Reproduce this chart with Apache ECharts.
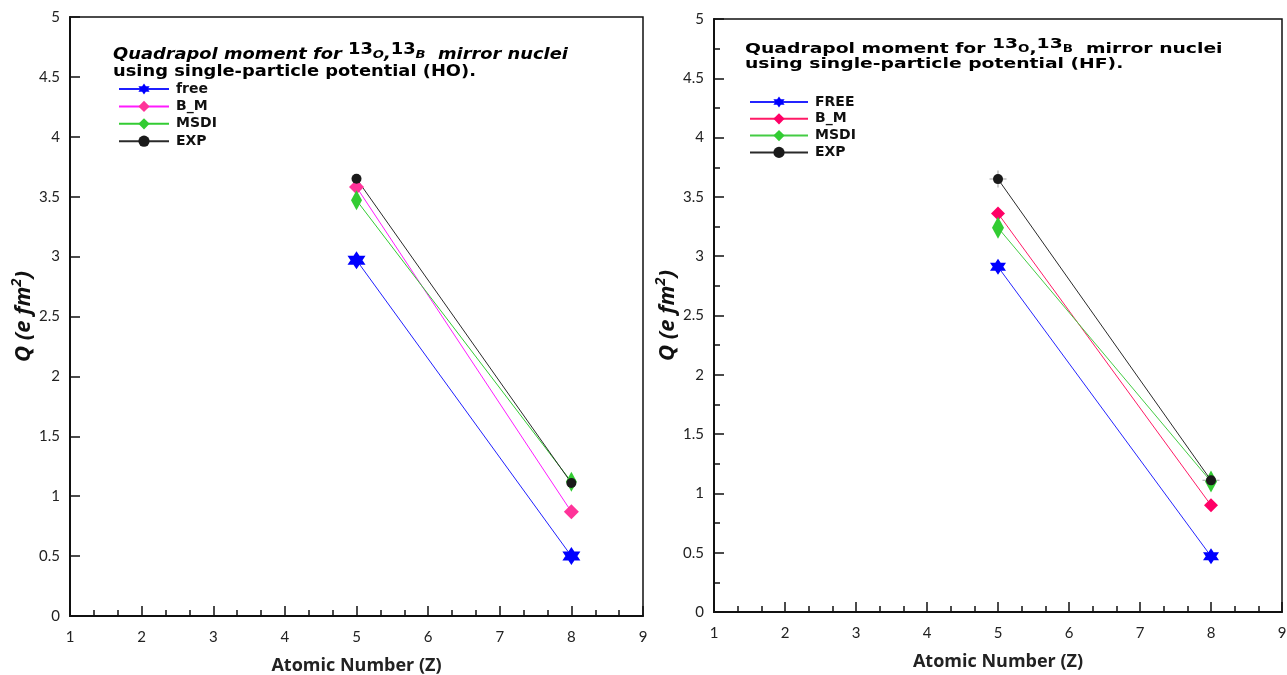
<!DOCTYPE html>
<html>
<head>
<meta charset="utf-8">
<script src="https://cdn.jsdelivr.net/npm/echarts@6/dist/echarts.min.js"></script>
<style>
  html, body { margin: 0; padding: 0; background: #fff; }
  #chart { width: 1287px; height: 675px; }
</style>
</head>
<body>
<div id="chart"></div>
<script>
// Atomic numbers of the mirror pair (13B: Z=5, 13O: Z=8)
const atomicNumbers = [5, 8];
const xTicks = [1, 2, 3, 4, 5, 6, 7, 8, 9];

// Quadrupole moments Q (e fm^2), harmonic oscillator potential
const hoFree = [2.97, 0.50];
const hoBM   = [3.58, 0.87];
const hoMSDI = [3.47, 1.12];
const hoEXP  = [3.65, 1.11];

// Quadrupole moments Q (e fm^2), Hartree-Fock potential
const hfFree = [2.91, 0.47];
const hfBM   = [3.36, 0.90];
const hfMSDI = [3.24, 1.10];
const hfEXP  = [3.65, 1.11];

const pairs = vals => atomicNumbers.map((z, i) => [z, vals[i]]);

// six-pointed star built from two triangles with the same winding
const hexagram = 'path://M0,-10 L8.66,5 L-8.66,5 Z M0,10 L-8.66,-5 L8.66,-5 Z';
const plusMark = 'path://M-10,-0.6 L10,-0.6 L10,0.6 L-10,0.6 Z M-0.6,-10 L0.6,-10 L0.6,10 L-0.6,10 Z';

const tickFont = { fontFamily: 'Lato', fontSize: 15, color: '#222' };

function xAxisFor(gridIndex) {
  return {
    type: 'value', gridIndex, min: xTicks[0], max: xTicks[xTicks.length - 1], interval: 1,
    name: 'Atomic Number (Z)', nameLocation: 'middle', nameGap: 41,
    nameTextStyle: { fontFamily: 'Open Sans', fontWeight: 'bold', fontSize: 18, color: '#222' },
    axisLine: { show: true, onZero: false, lineStyle: { color: '#111', width: 2 } },
    axisTick: { show: true, inside: true, length: 10, lineStyle: { color: '#111', width: 1.5 } },
    minorTick: { show: true, splitNumber: 3, length: 6, lineStyle: { color: '#111', width: 1.5 } },
    axisLabel: Object.assign({ margin: 14 }, tickFont),
    splitLine: { show: false }
  };
}

function yAxisFor(gridIndex, minor) {
  return {
    type: 'value', gridIndex, min: 0, max: 5, interval: 0.5,
    name: '{q|Q (e fm}{s|2}{q|)}', nameLocation: 'middle', nameGap: 34, nameRotate: 90,
    nameTextStyle: {
      rich: {
        q: { fontFamily: 'Open Sans', fontWeight: 'bold', fontStyle: 'italic', fontSize: 22, color: '#111', verticalAlign: 'bottom' },
        s: { fontFamily: 'Open Sans', fontWeight: 'bold', fontStyle: 'italic', fontSize: 15, color: '#111', verticalAlign: 'bottom', padding: [0, 0, 11, 0] }
      }
    },
    axisLine: { show: true, onZero: false, lineStyle: { color: '#111', width: 2 } },
    axisTick: { show: true, inside: true, length: 10, lineStyle: { color: '#111', width: 1.5 } },
    minorTick: { show: minor, splitNumber: 2, length: 6, lineStyle: { color: '#111', width: 1.5 } },
    axisLabel: Object.assign({ margin: 10 }, tickFont),
    splitLine: { show: false }
  };
}

function lineSeries(name, grid, values, symbol, size, lineColor, markColor) {
  return {
    name, type: 'line', xAxisIndex: grid, yAxisIndex: grid,
    data: pairs(values), symbol, symbolSize: size,
    lineStyle: { color: lineColor, width: 1 },
    itemStyle: { color: markColor },
    emphasis: { disabled: true }, animation: false
  };
}

const titleRich = (italic, size) => ({
  m: { fontFamily: 'DejaVu Sans', fontWeight: 'bold', fontStyle: italic ? 'italic' : 'normal', fontSize: size, fill: '#000', verticalAlign: 'bottom' },
  n: { fontFamily: 'DejaVu Sans', fontWeight: 'bold', fontSize: size, fill: '#000', verticalAlign: 'bottom' },
  sup: { fontFamily: 'DejaVu Sans', fontWeight: 'bold', fontSize: size, fill: '#000', verticalAlign: 'bottom', padding: [0, 0, 5, 0] },
  sm: { fontFamily: 'DejaVu Sans', fontWeight: 'bold', fontStyle: italic ? 'italic' : 'normal', fontSize: size - 4, fill: '#000', verticalAlign: 'bottom', padding: [0, 0, 2, 0] }
});

// heading blocks inside each plot, widened horizontally like the printed captions
function heading(x, y, sx, text, lineHeight, rich) {
  return {
    type: 'text', left: x, top: y, scaleX: sx, silent: true,
    style: { text, lineHeight, rich, fill: '#000' }
  };
}

const legendText = { fontFamily: 'DejaVu Sans', fontWeight: 'bold', fontSize: 14, color: '#111', padding: [0, 0, 0, 2] };
const shortName = name => name.split(':')[1];

const option = {
  backgroundColor: '#fff',
  animation: false,
  grid: [
    { left: 70, top: 17, width: 573, height: 599, show: true, borderColor: '#111', borderWidth: 1.5, containLabel: false, outerBoundsMode: 'none' },
    { left: 714, top: 19, width: 568, height: 593, show: true, borderColor: '#111', borderWidth: 1.5, containLabel: false, outerBoundsMode: 'none' }
  ],
  graphic: [
    heading(113, 43, 1.19,
      '{m|Quadrapol moment for }{sup|13}{sm|O}{m|,}{sup|13}{sm|B}{m|  mirror nuclei}\n{n|using single-particle potential (HO).}',
      17, titleRich(true, 15)),
    heading(745, 37, 1.34,
      '{m|Quadrapol moment for }{sup|13}{sm|O}{m|,}{sup|13}{sm|B}{m|  mirror nuclei}\n{m|using single-particle potential (HF).}',
      15, titleRich(false, 14))
  ],
  legend: [
    {
      orient: 'vertical', left: 113, top: 77, itemWidth: 50, itemHeight: 14, itemGap: 3.4,
      data: ['HO:free', 'HO:B_M', 'HO:MSDI', 'HO:EXP'],
      formatter: shortName, textStyle: legendText, selectedMode: false
    },
    {
      orient: 'vertical', left: 744, top: 90, itemWidth: 58, itemHeight: 14, itemGap: 2.8,
      data: ['HF:FREE', 'HF:B_M', 'HF:MSDI', 'HF:EXP'],
      formatter: shortName, textStyle: legendText, selectedMode: false
    }
  ],
  xAxis: [xAxisFor(0), xAxisFor(1)],
  yAxis: [yAxisFor(0, false), yAxisFor(1, true)],
  series: [
    lineSeries('HO:free', 0, hoFree, hexagram, 18, '#1f1fff', '#0000ff'),
    lineSeries('HO:B_M', 0, hoBM, 'diamond', [15, 15], '#ff1aff', '#ff3399'),
    lineSeries('HO:MSDI', 0, hoMSDI, 'diamond', [11, 20], '#33cc33', '#33cc33'),
    lineSeries('HO:EXP', 0, hoEXP, 'circle', 10, '#2a2a2a', '#1a1a1a'),

    lineSeries('HF:FREE', 1, hfFree, hexagram, 16, '#2424ff', '#0000ff'),
    lineSeries('HF:B_M', 1, hfBM, 'diamond', [14, 14], '#ff1a66', '#ff0066'),
    lineSeries('HF:MSDI', 1, hfMSDI, 'diamond', [12, 22], '#44cc44', '#33cc33'),
    {
      name: 'HF:EXP error', type: 'scatter', xAxisIndex: 1, yAxisIndex: 1,
      data: pairs(hfEXP), symbol: plusMark, symbolSize: 17,
      itemStyle: { color: '#8a8a8a' }, silent: true
    },
    lineSeries('HF:EXP', 1, hfEXP, 'circle', 10, '#2a2a2a', '#1a1a1a')
  ]
};

const chart = echarts.init(document.getElementById('chart'), null, { renderer: 'canvas' });
chart.setOption(option);
</script>
</body>
</html>
